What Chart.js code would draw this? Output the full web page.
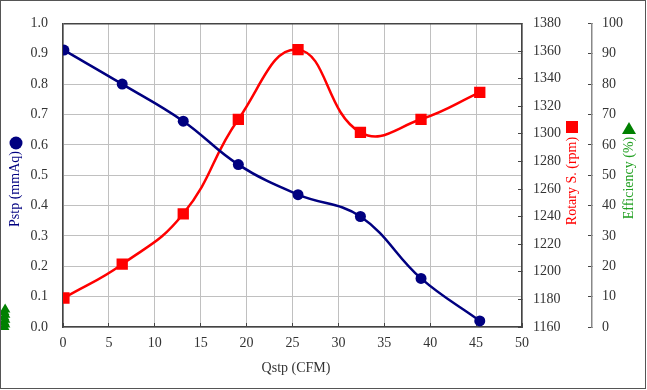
<!DOCTYPE html>
<html>
<head>
<meta charset="utf-8">
<script src="https://cdn.jsdelivr.net/npm/chart.js@4/dist/chart.umd.min.js"></script>
<style>
  html, body { margin: 0; padding: 0; background: #fff; }
  #wrap { width: 647px; height: 390px; }
</style>
</head>
<body>
<div id="wrap"><canvas id="c" width="647" height="390"></canvas></div>
<script>
// flow rate (CFM)
var qstp = [0.1, 6.45, 13.1, 19.1, 25.6, 32.4, 39.0, 45.4];
// static pressure (mmAq)
var pstp = [0.912, 0.800, 0.678, 0.535, 0.436, 0.364, 0.160, 0.020];
// rotary speed (rpm)
var rotary = [1181, 1205.5, 1242, 1310.5, 1361, 1301, 1310.5, 1330];
// efficiency (%) - these sit piled up left of the plot in the picture
var effX = [-6.3, -6.4, -6.3, -6.4, -6.3, -6.4, -6.3, -6.4];
var efficiency = [5.8, 4.9, 4.0, 3.2, 2.4, 1.6, 0.8, 0];

var BLUE = '#000080', RED = '#ff0000', GREEN = '#008000';
var FONT = { family: '"Liberation Serif", "Times New Roman", serif', size: 14 };
var TXT = '#333333';

function pts(xs, ys) {
    var out = [];
    for (var i = 0; i < xs.length; i++) out.push({ x: xs[i], y: ys[i] });
    return out;
}

// white background, outer frame, axis titles with their markers
var decor = {
    id: 'decor',
    beforeDraw: function(chart) {
        var ctx = chart.ctx;
        ctx.save();
        ctx.fillStyle = '#fff';
        ctx.fillRect(0, 0, chart.width, chart.height);
        ctx.restore();
    },
    afterDatasetsDraw: function(chart) {
        // points outside the plot area get skipped by chart.js, so draw
        // the efficiency points (already placed by the scales) ourselves
        var meta = chart.getDatasetMeta(2);
        meta.data.forEach(function(p) { p.draw(chart.ctx); });
    },
    afterDraw: function(chart) {
        var ctx = chart.ctx;
        ctx.save();
        ctx.strokeStyle = '#555';
        ctx.lineWidth = 1;
        ctx.strokeRect(0.5, 0.5, 645, 388);

        ctx.font = FONT.size + 'px ' + FONT.family;
        ctx.textAlign = 'center';
        ctx.textBaseline = 'middle';

        function vtext(txt, x, y, col) {
            ctx.save();
            ctx.translate(x, y);
            ctx.rotate(-Math.PI / 2);
            ctx.fillStyle = col;
            ctx.fillText(txt, 0, 0);
            ctx.restore();
        }
        vtext('Pstp (mmAq)', 15, 189, BLUE);
        vtext('Rotary S. (rpm)', 572, 181, RED);
        vtext('Efficiency (%)', 629, 178, '#22a022');

        ctx.fillStyle = BLUE;
        ctx.beginPath();
        ctx.arc(16, 143, 6.5, 0, Math.PI * 2);
        ctx.fill();

        ctx.fillStyle = RED;
        ctx.fillRect(566, 121, 12, 12);

        ctx.fillStyle = GREEN;
        ctx.beginPath();
        ctx.moveTo(629, 122);
        ctx.lineTo(636, 134);
        ctx.lineTo(622, 134);
        ctx.closePath();
        ctx.fill();

        ctx.fillStyle = TXT;
        ctx.fillText('Qstp (CFM)', 296, 368);
        ctx.restore();
    }
};

var chart = new Chart(document.getElementById('c').getContext('2d'), {
    type: 'line',
    data: {
        datasets: [
            {
                label: 'Pstp',
                data: pts(qstp, pstp),
                yAxisID: 'y',
                borderColor: BLUE,
                backgroundColor: BLUE,
                borderWidth: 2.5,
                tension: 0.4,
                pointRadius: 5.5,
                pointBorderWidth: 0
            },
            {
                label: 'Rotary S.',
                data: pts(qstp, rotary),
                yAxisID: 'rpm',
                borderColor: RED,
                backgroundColor: RED,
                borderWidth: 2.5,
                tension: 0.45,
                pointStyle: 'rect',
                pointRadius: 8,
                pointBorderWidth: 0
            },
            {
                label: 'Efficiency',
                data: pts(effX, efficiency),
                yAxisID: 'eff',
                showLine: false,
                clip: false,
                borderColor: GREEN,
                backgroundColor: GREEN,
                pointStyle: 'triangle',
                pointRadius: 6,
                pointBorderWidth: 0
            }
        ]
    },
    options: {
        responsive: false,
        animation: false,
        layout: { padding: { top: 19, left: 0, right: 0, bottom: 0 } },
        plugins: { legend: { display: false }, tooltip: { enabled: false } },
        scales: {
            x: {
                type: 'linear',
                min: 0, max: 50,
                afterFit: function(s) { s.height = 63; },
                ticks: { stepSize: 5, color: TXT, font: FONT, padding: 12, maxRotation: 0 },
                grid: { color: '#c0c0c0', tickColor: '#444', tickLength: -4 },
                border: { color: '#444', width: 1.5 }
            },
            y: {
                position: 'left',
                min: 0, max: 1,
                afterFit: function(s) { s.width = 63; },
                ticks: {
                    stepSize: 0.1, color: TXT, font: FONT, padding: 15,
                    callback: function(v) { return v.toFixed(1); }
                },
                grid: {
                    drawTicks: false,
                    color: function(c) { return c.tick && c.tick.value >= 0.999 ? '#444' : '#c0c0c0'; },
                    lineWidth: function(c) { return c.tick && c.tick.value >= 0.999 ? 1.5 : 1; }
                },
                border: { color: '#444', width: 1.5 }
            },
            rpm: {
                position: 'right',
                min: 1160, max: 1380,
                afterFit: function(s) { s.width = 70; },
                ticks: {
                    stepSize: 20, color: TXT, font: FONT, padding: 15,
                    callback: function(v) { return String(v); }
                },
                grid: { drawOnChartArea: false, tickColor: '#444', tickLength: -4 },
                border: { color: '#444', width: 1.5 }
            },
            eff: {
                position: 'right',
                min: 0, max: 100,
                afterFit: function(s) { s.width = 55; },
                ticks: { stepSize: 10, color: TXT, font: FONT, padding: 14 },
                grid: { drawOnChartArea: false, tickColor: '#444', tickLength: -4 },
                border: { color: '#888', width: 1.5 }
            }
        }
    },
    plugins: [decor]
});
</script>
</body>
</html>
